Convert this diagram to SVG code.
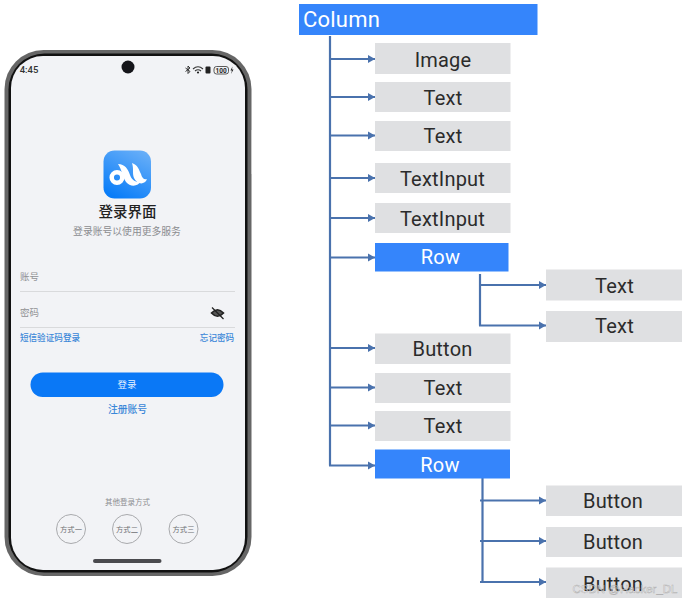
<svg xmlns="http://www.w3.org/2000/svg" width="687" height="603" viewBox="0 0 687 603">
<style>
.g{fill:#dfe0e2}
.b{fill:#3585fb}
.t{font-family:Roboto,"Noto Sans",sans-serif;font-size:20px;fill:#2b2b2b;text-anchor:middle;letter-spacing:0.2px}
.c{font-family:"Noto Sans CJK SC","Noto Sans",sans-serif;text-anchor:middle}
.l{fill:none;stroke:#4a72ad;stroke-width:2.200}
.lk{fill:#3a87d8;font-size:8.600px;font-weight:500}
.way{fill:#6f7074;font-size:7.300px}
.ci{fill:none;stroke:#a9aaad;stroke-width:1}
</style>
<defs>
<marker id="a" markerUnits="userSpaceOnUse" markerWidth="8" markerHeight="9" refX="7" refY="4.500" orient="auto"><path d="M0 0.500L7 4.500L0 8.500z" fill="#4a72ad"/></marker>
<linearGradient id="ic" x1="0.8" y1="0" x2="0.3" y2="1"><stop offset="0" stop-color="#67aef8"/><stop offset="1" stop-color="#0a7df8"/></linearGradient>
</defs>
<rect width="687" height="603" fill="#fff"/>
<g id="phone">
<rect x="4.500" y="50" width="247" height="526" rx="39" fill="#666"/>
<rect x="8.500" y="53.500" width="239" height="519" rx="36" fill="#111"/>
<rect x="11" y="56" width="234" height="514" rx="32" fill="#f2f3f6"/>
<rect x="251" y="130" width="1" height="44" fill="#c8c8c8"/>
<circle cx="128" cy="67" r="6.500" fill="#15151a"/>
<text x="29" y="73" style="font-family:Roboto,sans-serif;font-size:9.500px;font-weight:500;fill:#333;text-anchor:middle">4:45</text>
<g id="status" fill="#222">
<path d="M185.500 68L190 71.500L188 73.500V66L190 68L185.500 71.500" fill="none" stroke="#222" stroke-width="0.900"/>
<path d="M193 69Q198 64.500 203 69M195 71Q198 68.500 201 71" fill="none" stroke="#333" stroke-width="1.100"/>
<circle cx="198" cy="72.500" r="1.100"/>
<rect x="205.500" y="66.500" width="5" height="7" rx="1"/>
<rect x="214" y="66.500" width="14.500" height="7.500" rx="2.500" fill="none" stroke="#333" stroke-width="0.800"/>
<text x="221.200" y="72.800" style="font-family:Roboto,sans-serif;font-size:6.500px;font-weight:700;text-anchor:middle">100</text>
<path d="M232.500 66.500L230.500 70.500H232L231 74L233.500 69.500H232z"/>
</g>
<g id="appicon">
<rect x="103.500" y="150.500" width="47.500" height="48" rx="11" fill="url(#ic)"/>
<circle cx="117" cy="177.500" r="5.300" fill="none" stroke="#fff" stroke-width="4.500"/>
<path d="M118 164C125 164 128 169 130 175C132 181 137 183 141 181C138 187 130 187 126 182C122 176 122 170 118 164z" fill="#fff"/>
<path d="M132 163C138 165 139 170 141 174C142 178 144 180 147 179C145 185 137 185 134 178C132 173 134 169 132 163z" fill="#fff"/>
</g>
<text class="c" x="127.500" y="217" font-size="14.500" font-weight="500" fill="#222">登录界面</text>
<text class="c" x="127" y="235" font-size="9.800" fill="#8b8c90">登录账号以使用更多服务</text>
<text class="c" x="29.500" y="280" font-size="9.500" fill="#909194">账号</text>
<rect x="20" y="291" width="215" height="1" fill="#d9dadc"/>
<text class="c" x="29.500" y="316" font-size="9.500" fill="#909194">密码</text>
<g id="eye" fill="none" stroke="#222">
<path d="M211.500 313Q217.500 306.500 223.500 313Q217.500 319.500 211.500 313z" stroke-width="1.600" fill="#555"/>
<path d="M212 307.500L223.500 319" stroke-width="1.200"/>
</g>
<rect x="20" y="327" width="215" height="1" fill="#d9dadc"/>
<text class="c lk" x="50" y="341">短信验证码登录</text>
<text class="c lk" x="217" y="341">忘记密码</text>
<rect x="30.500" y="372.500" width="193" height="24.500" rx="12.250" fill="#0a78f6"/>
<text class="c" x="127" y="388" font-size="9.500" fill="#e9f2ff">登录</text>
<text class="c lk" x="127.500" y="413" style="font-size:9.800px">注册账号</text>
<text class="c" x="127.500" y="505" font-size="7.500" fill="#8b8c90">其他登录方式</text>
<circle class="ci" cx="71" cy="529" r="14.500"/>
<text class="c way" x="71" y="532">方式一</text>
<circle class="ci" cx="127" cy="529" r="14.500"/>
<text class="c way" x="127" y="532">方式二</text>
<circle class="ci" cx="183.500" cy="529" r="14.500"/>
<text class="c way" x="183.500" y="532">方式三</text>
<rect x="93" y="559" width="68.500" height="4" rx="2" fill="#4a4a4e"/>
</g>
<g id="connectors">
<path class="l" d="M330 36V465.500"/>
<path class="l" d="M330 59H375" marker-end="url(#a)"/>
<path class="l" d="M330 97H375" marker-end="url(#a)"/>
<path class="l" d="M330 135.500H375" marker-end="url(#a)"/>
<path class="l" d="M330 178H375" marker-end="url(#a)"/>
<path class="l" d="M330 218H375" marker-end="url(#a)"/>
<path class="l" d="M330 257.500H375" marker-end="url(#a)"/>
<path class="l" d="M330 348H375" marker-end="url(#a)"/>
<path class="l" d="M330 387.500H375" marker-end="url(#a)"/>
<path class="l" d="M330 425.500H375" marker-end="url(#a)"/>
<path class="l" d="M329 465.500H375" marker-end="url(#a)"/>
<path class="l" d="M480 274V325.500"/>
<path class="l" d="M480 285H546" marker-end="url(#a)"/>
<path class="l" d="M479 325.500H546" marker-end="url(#a)"/>
<path class="l" d="M482.500 478V582"/>
<path class="l" d="M480 500.500H546" marker-end="url(#a)"/>
<path class="l" d="M480 541H546" marker-end="url(#a)"/>
<path class="l" d="M480 582H546" marker-end="url(#a)"/>
</g>
<g id="column"><rect class="b" x="299" y="4" width="238.500" height="31"/><text class="t" x="341.500" y="27" style="font-size:22px;fill:#fff">Column</text></g>
<g id="image"><rect class="g" x="375" y="43" width="135.500" height="31"/><text class="t" x="443" y="67">Image</text></g>
<g id="text1"><rect class="g" x="375" y="82" width="135.500" height="30"/><text class="t" x="443" y="105">Text</text></g>
<g id="text2"><rect class="g" x="375" y="121" width="135.500" height="30"/><text class="t" x="443" y="143">Text</text></g>
<g id="textinput1"><rect class="g" x="375" y="163" width="135.500" height="30"/><text class="t" x="442.500" y="186">TextInput</text></g>
<g id="textinput2"><rect class="g" x="375" y="203" width="135.500" height="30"/><text class="t" x="442.500" y="226">TextInput</text></g>
<g id="row1"><rect class="b" x="375" y="243" width="133.500" height="28.500"/><text class="t" x="440.500" y="264" style="fill:#fff">Row</text></g>
<g id="text3"><rect class="g" x="546" y="269.500" width="136" height="31"/><text class="t" x="614.500" y="293">Text</text></g>
<g id="text4"><rect class="g" x="546" y="311" width="136" height="31"/><text class="t" x="614.500" y="333">Text</text></g>
<g id="button1"><rect class="g" x="375" y="333.500" width="135.500" height="30.500"/><text class="t" x="442.500" y="356">Button</text></g>
<g id="text5"><rect class="g" x="375" y="373" width="135.500" height="30"/><text class="t" x="443" y="395">Text</text></g>
<g id="text6"><rect class="g" x="375" y="411" width="135.500" height="30"/><text class="t" x="443" y="433">Text</text></g>
<g id="row2"><rect class="b" x="375" y="449.500" width="135" height="29"/><text class="t" x="440" y="472" style="fill:#fff">Row</text></g>
<g id="button2"><rect class="g" x="546" y="485.500" width="136" height="30.500"/><text class="t" x="613" y="508">Button</text></g>
<g id="button3"><rect class="g" x="546" y="527" width="136" height="30"/><text class="t" x="613" y="549">Button</text></g>
<g id="button4"><rect class="g" x="546" y="567.500" width="136" height="30.500"/><text class="t" x="613" y="591">Button</text></g>
<text x="625" y="593" style="font-family:'Liberation Sans',sans-serif;font-size:11.500px;fill:#ffffff;fill-opacity:0.6;stroke:#777;stroke-opacity:0.5;stroke-width:0.5;text-anchor:middle">CSDN @Hacker_DL</text>
</svg>
